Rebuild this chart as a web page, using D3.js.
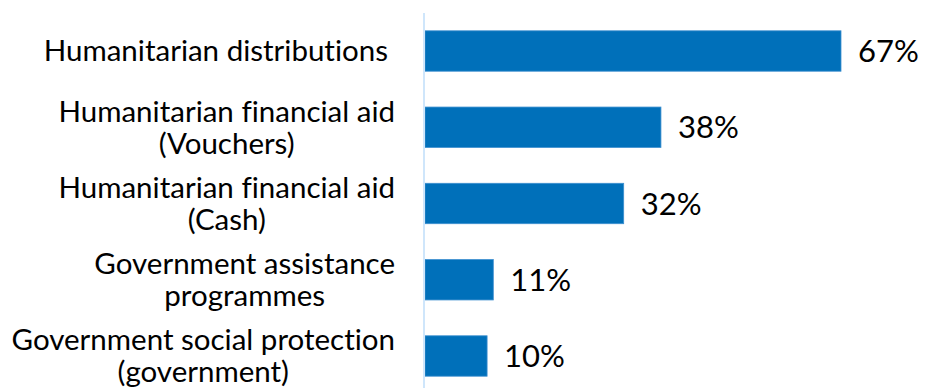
<!DOCTYPE html>
<html>
<head>
<meta charset="utf-8">
<script src="https://cdn.jsdelivr.net/npm/d3@7"></script>
<style>
  html, body { margin: 0; padding: 0; background: #fff; }
  svg { display: block; font-family: Lato, "Open Sans", sans-serif; font-variant-ligatures: none; }
</style>
</head>
<body>
<svg id="chart" width="925" height="388"></svg>
<script>
// Sources of assistance received (share of respondents, %)
const categories = [
  ["Humanitarian distributions"],
  ["Humanitarian financial aid", "(Vouchers)"],
  ["Humanitarian financial aid", "(Cash)"],
  ["Government assistance", "programmes"],
  ["Government social protection", "(government)"]
];
const values = [67, 38, 32, 11, 10];
const valueLabels = ["67%", "38%", "32%", "11%", "10%"];

const svg = d3.select("#chart");
const x0 = 425;

const x = d3.scaleLinear().domain([0, 67]).range([x0, 841]);
const y = d3.scaleBand()
  .domain(d3.range(values.length))
  .range([12.5, 394.5])
  .paddingInner(0.47)
  .paddingOuter(0.24);

// Bars
svg.append("g").selectAll("rect")
  .data(values)
  .join("rect")
  .attr("x", x(0))
  .attr("y", (d, i) => y(i))
  .attr("width", d => x(d) - x(0))
  .attr("height", y.bandwidth())
  .attr("fill", "#0070BA")
  .attr("stroke", "#3d8fd0")
  .attr("stroke-width", 0.8);

// Category axis line
svg.append("line")
  .attr("x1", x0 - 1).attr("x2", x0 - 1)
  .attr("y1", 13).attr("y2", 388)
  .attr("stroke", "#cfe6fb")
  .attr("stroke-width", 2);

// Category labels (wrapped, centred on each bar)
const lineH = 32;
const labels = svg.append("g").selectAll("text")
  .data(categories)
  .join("text")
  .attr("text-anchor", "middle")
  .attr("font-size", 29.5)
  .attr("fill", "#000");

labels.each(function(lines, i) {
  const cy = y(i) + y.bandwidth() / 2;
  const t = d3.select(this);
  const startY = cy - (lines.length - 1) * lineH / 2;
  lines.forEach((ln, j) => {
    t.append("tspan")
      .attr("y", startY + j * lineH)
      .attr("dy", "0.35em")
      .text(ln);
  });
});

// Place each label block so its widest line ends just left of the axis
labels.each(function(lines, i) {
  const t = d3.select(this);
  const widths = [];
  t.selectAll("tspan").each(function() { widths.push(this.getComputedTextLength()); });
  const w = d3.max(widths);
  const right = i === 0 ? 388 : 395;
  t.selectAll("tspan").attr("x", right - w / 2);
});

// Value labels
svg.append("g").selectAll("text")
  .data(values)
  .join("text")
  .attr("x", d => x(d) + 17)
  .attr("y", (d, i) => y(i) + y.bandwidth() / 2)
  .attr("dy", "0.36em")
  .attr("font-size", 31)
  .attr("fill", "#000")
  .text((d, i) => valueLabels[i]);
</script>
</body>
</html>
